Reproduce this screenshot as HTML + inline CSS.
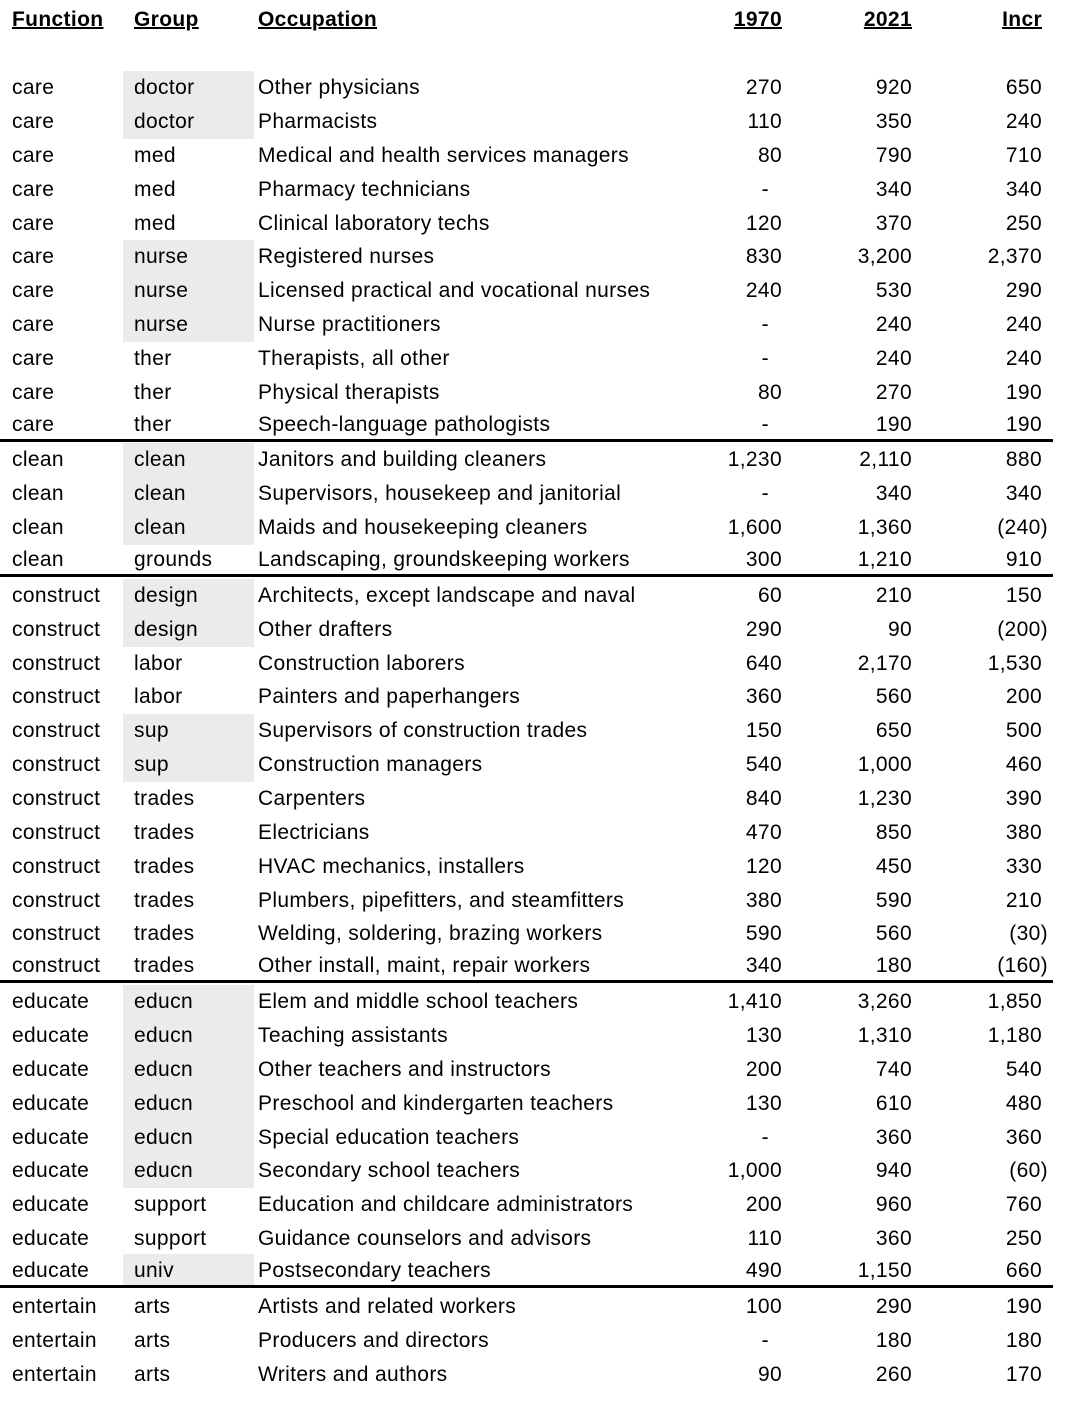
<!DOCTYPE html>
<html><head><meta charset="utf-8"><style>
body{margin:0;width:1076px;height:1406px;background:#fff;position:relative;overflow:hidden;font-family:"Liberation Sans",Arial,sans-serif;font-size:21px;letter-spacing:0.35px;color:#000}
.r{position:absolute;left:0;width:1076px;height:34px;line-height:34px;margin-top:1px}
.r span{position:absolute;top:0;white-space:nowrap}
.f{left:12px}
.g{left:123px;width:131px;padding-left:11px;box-sizing:border-box;height:34px}
.s{background:#ebebeb}
.o{left:258px}
.a{right:294px;text-align:right}
.b{right:164px;text-align:right}
.c{right:34px;text-align:right}
.c.p{right:28px}
.d{right:307px}
.h span{font-weight:bold;text-decoration:underline;text-decoration-thickness:2px}
.ln{position:absolute;left:0;width:1053px;height:3px;background:#000}
</style></head><body>
<div class="r h" style="top:2px"><span class="f">Function</span><span class="g" style="background:none">Group</span><span class="o">Occupation</span><span class="a">1970</span><span class="b">2021</span><span class="c">Incr</span></div>

<div class="r" style="top:70px"><span class="f">care</span><span class="g s">doctor</span><span class="o">Other physicians</span><span class="a">270</span><span class="b">920</span><span class="c">650</span></div>
<div class="r" style="top:104px"><span class="f">care</span><span class="g s">doctor</span><span class="o">Pharmacists</span><span class="a">110</span><span class="b">350</span><span class="c">240</span></div>
<div class="r" style="top:138px"><span class="f">care</span><span class="g">med</span><span class="o">Medical and health services managers</span><span class="a">80</span><span class="b">790</span><span class="c">710</span></div>
<div class="r" style="top:172px"><span class="f">care</span><span class="g">med</span><span class="o">Pharmacy technicians</span><span class="a d">-</span><span class="b">340</span><span class="c">340</span></div>
<div class="r" style="top:206px"><span class="f">care</span><span class="g">med</span><span class="o">Clinical laboratory techs</span><span class="a">120</span><span class="b">370</span><span class="c">250</span></div>
<div class="r" style="top:239px"><span class="f">care</span><span class="g s">nurse</span><span class="o">Registered nurses</span><span class="a">830</span><span class="b">3,200</span><span class="c">2,370</span></div>
<div class="r" style="top:273px"><span class="f">care</span><span class="g s">nurse</span><span class="o">Licensed practical and vocational nurses</span><span class="a">240</span><span class="b">530</span><span class="c">290</span></div>
<div class="r" style="top:307px"><span class="f">care</span><span class="g s">nurse</span><span class="o">Nurse practitioners</span><span class="a d">-</span><span class="b">240</span><span class="c">240</span></div>
<div class="r" style="top:341px"><span class="f">care</span><span class="g">ther</span><span class="o">Therapists, all other</span><span class="a d">-</span><span class="b">240</span><span class="c">240</span></div>
<div class="r" style="top:375px"><span class="f">care</span><span class="g">ther</span><span class="o">Physical therapists</span><span class="a">80</span><span class="b">270</span><span class="c">190</span></div>
<div class="r" style="top:407px"><span class="f">care</span><span class="g">ther</span><span class="o">Speech-language pathologists</span><span class="a d">-</span><span class="b">190</span><span class="c">190</span></div>
<div class="ln" style="top:439px"></div>

<div class="r" style="top:442px"><span class="f">clean</span><span class="g s">clean</span><span class="o">Janitors and building cleaners</span><span class="a">1,230</span><span class="b">2,110</span><span class="c">880</span></div>
<div class="r" style="top:476px"><span class="f">clean</span><span class="g s">clean</span><span class="o">Supervisors, housekeep and janitorial</span><span class="a d">-</span><span class="b">340</span><span class="c">340</span></div>
<div class="r" style="top:510px"><span class="f">clean</span><span class="g s">clean</span><span class="o">Maids and housekeeping cleaners</span><span class="a">1,600</span><span class="b">1,360</span><span class="c p">(240)</span></div>
<div class="r" style="top:542px"><span class="f">clean</span><span class="g">grounds</span><span class="o">Landscaping, groundskeeping workers</span><span class="a">300</span><span class="b">1,210</span><span class="c">910</span></div>
<div class="ln" style="top:574px"></div>

<div class="r" style="top:578px"><span class="f">construct</span><span class="g s">design</span><span class="o">Architects, except landscape and naval</span><span class="a">60</span><span class="b">210</span><span class="c">150</span></div>
<div class="r" style="top:612px"><span class="f">construct</span><span class="g s">design</span><span class="o">Other drafters</span><span class="a">290</span><span class="b">90</span><span class="c p">(200)</span></div>
<div class="r" style="top:646px"><span class="f">construct</span><span class="g">labor</span><span class="o">Construction laborers</span><span class="a">640</span><span class="b">2,170</span><span class="c">1,530</span></div>
<div class="r" style="top:679px"><span class="f">construct</span><span class="g">labor</span><span class="o">Painters and paperhangers</span><span class="a">360</span><span class="b">560</span><span class="c">200</span></div>
<div class="r" style="top:713px"><span class="f">construct</span><span class="g s">sup</span><span class="o">Supervisors of construction trades</span><span class="a">150</span><span class="b">650</span><span class="c">500</span></div>
<div class="r" style="top:747px"><span class="f">construct</span><span class="g s">sup</span><span class="o">Construction managers</span><span class="a">540</span><span class="b">1,000</span><span class="c">460</span></div>
<div class="r" style="top:781px"><span class="f">construct</span><span class="g">trades</span><span class="o">Carpenters</span><span class="a">840</span><span class="b">1,230</span><span class="c">390</span></div>
<div class="r" style="top:815px"><span class="f">construct</span><span class="g">trades</span><span class="o">Electricians</span><span class="a">470</span><span class="b">850</span><span class="c">380</span></div>
<div class="r" style="top:849px"><span class="f">construct</span><span class="g">trades</span><span class="o">HVAC mechanics, installers</span><span class="a">120</span><span class="b">450</span><span class="c">330</span></div>
<div class="r" style="top:883px"><span class="f">construct</span><span class="g">trades</span><span class="o">Plumbers, pipefitters, and steamfitters</span><span class="a">380</span><span class="b">590</span><span class="c">210</span></div>
<div class="r" style="top:916px"><span class="f">construct</span><span class="g">trades</span><span class="o">Welding, soldering, brazing workers</span><span class="a">590</span><span class="b">560</span><span class="c p">(30)</span></div>
<div class="r" style="top:948px"><span class="f">construct</span><span class="g">trades</span><span class="o">Other install, maint, repair workers</span><span class="a">340</span><span class="b">180</span><span class="c p">(160)</span></div>
<div class="ln" style="top:980px"></div>

<div class="r" style="top:984px"><span class="f">educate</span><span class="g s">educn</span><span class="o">Elem and middle school teachers</span><span class="a">1,410</span><span class="b">3,260</span><span class="c">1,850</span></div>
<div class="r" style="top:1018px"><span class="f">educate</span><span class="g s">educn</span><span class="o">Teaching assistants</span><span class="a">130</span><span class="b">1,310</span><span class="c">1,180</span></div>
<div class="r" style="top:1052px"><span class="f">educate</span><span class="g s">educn</span><span class="o">Other teachers and instructors</span><span class="a">200</span><span class="b">740</span><span class="c">540</span></div>
<div class="r" style="top:1086px"><span class="f">educate</span><span class="g s">educn</span><span class="o">Preschool and kindergarten teachers</span><span class="a">130</span><span class="b">610</span><span class="c">480</span></div>
<div class="r" style="top:1120px"><span class="f">educate</span><span class="g s">educn</span><span class="o">Special education teachers</span><span class="a d">-</span><span class="b">360</span><span class="c">360</span></div>
<div class="r" style="top:1153px"><span class="f">educate</span><span class="g s">educn</span><span class="o">Secondary school teachers</span><span class="a">1,000</span><span class="b">940</span><span class="c p">(60)</span></div>
<div class="r" style="top:1187px"><span class="f">educate</span><span class="g">support</span><span class="o">Education and childcare administrators</span><span class="a">200</span><span class="b">960</span><span class="c">760</span></div>
<div class="r" style="top:1221px"><span class="f">educate</span><span class="g">support</span><span class="o">Guidance counselors and advisors</span><span class="a">110</span><span class="b">360</span><span class="c">250</span></div>
<div class="r" style="top:1253px"><span class="f">educate</span><span class="g s">univ</span><span class="o">Postsecondary teachers</span><span class="a">490</span><span class="b">1,150</span><span class="c">660</span></div>
<div class="ln" style="top:1285px"></div>

<div class="r" style="top:1289px"><span class="f">entertain</span><span class="g">arts</span><span class="o">Artists and related workers</span><span class="a">100</span><span class="b">290</span><span class="c">190</span></div>
<div class="r" style="top:1323px"><span class="f">entertain</span><span class="g">arts</span><span class="o">Producers and directors</span><span class="a d">-</span><span class="b">180</span><span class="c">180</span></div>
<div class="r" style="top:1357px"><span class="f">entertain</span><span class="g">arts</span><span class="o">Writers and authors</span><span class="a">90</span><span class="b">260</span><span class="c">170</span></div>
</body></html>
